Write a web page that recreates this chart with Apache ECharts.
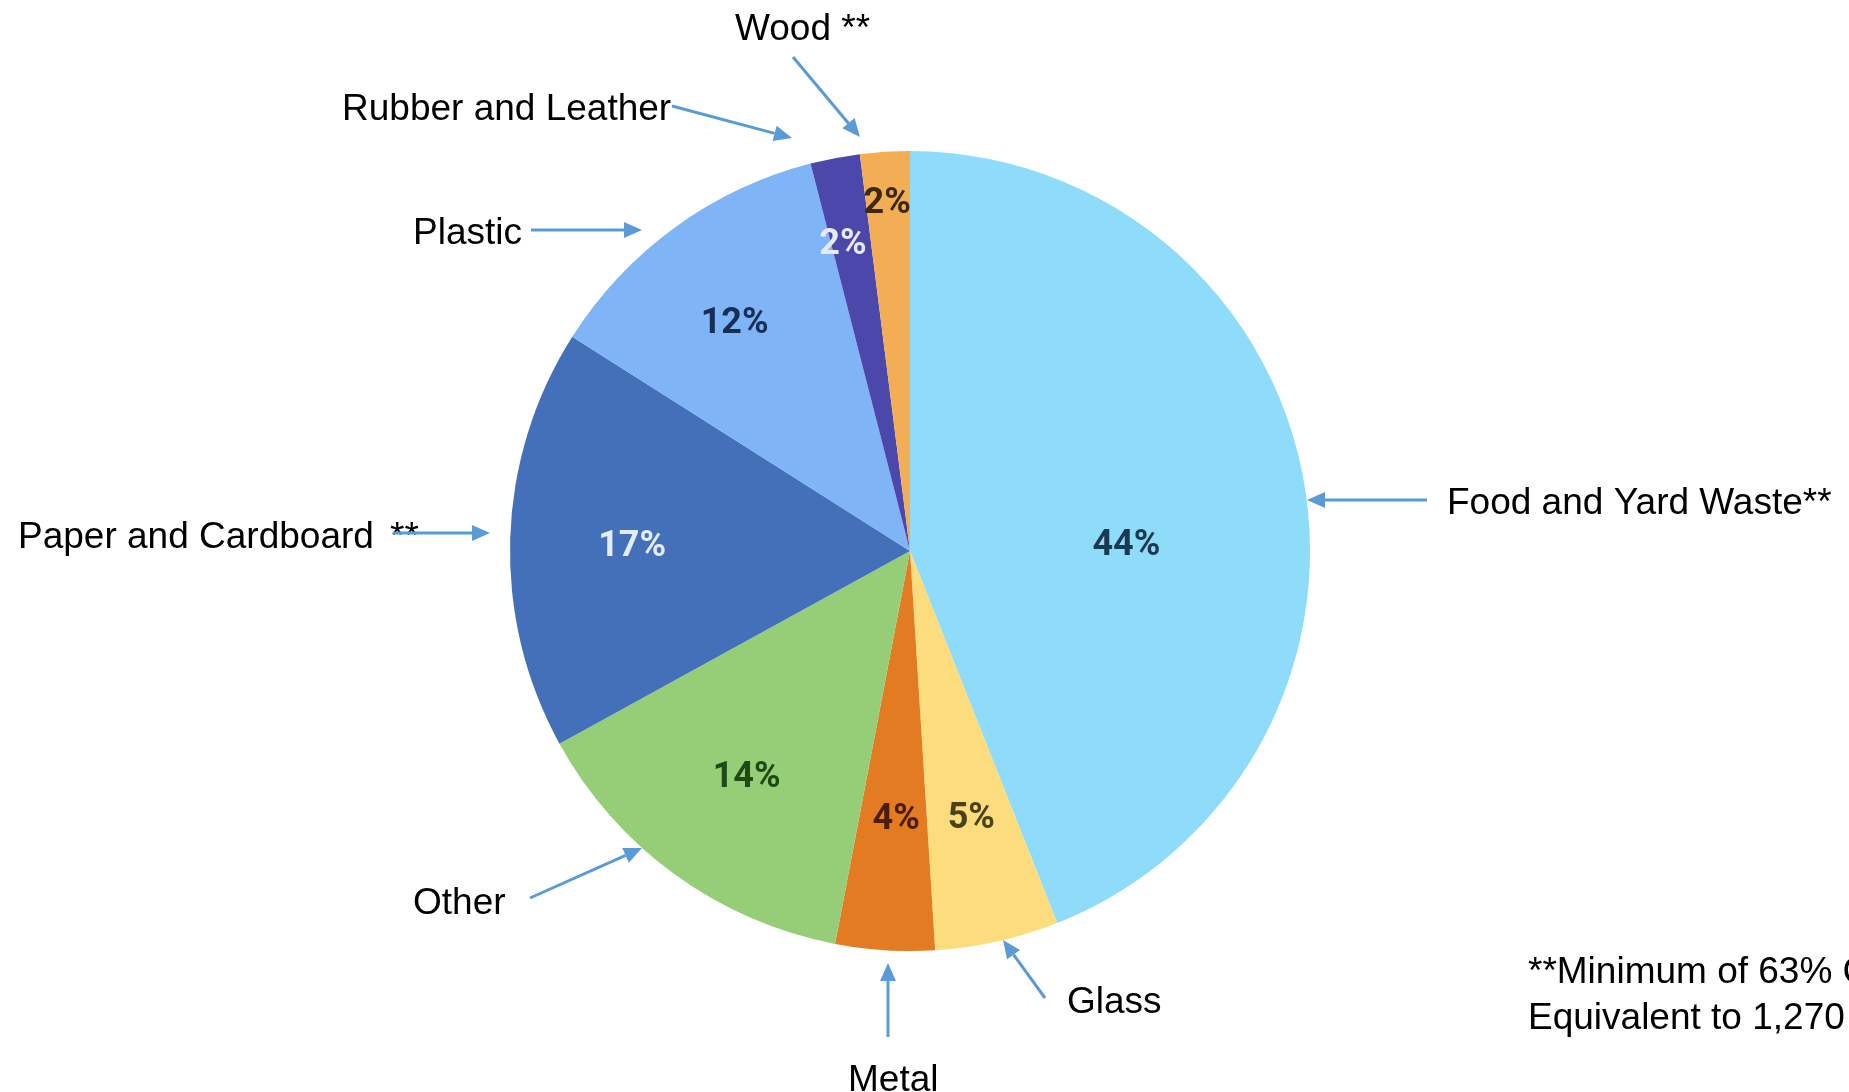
<!DOCTYPE html>
<html>
<head>
<meta charset="utf-8">
<title>Waste Composition</title>
<script src="https://cdn.jsdelivr.net/npm/echarts@6/dist/echarts.min.js"></script>
<style>
  html, body { margin: 0; padding: 0; background: #ffffff; }
  #chart { width: 1849px; height: 1092px; }
</style>
</head>
<body>
<div id="chart"></div>
<script>
// Waste stream composition, percent by category (clockwise from 12 o'clock)
const categories = ['Food and Yard Waste', 'Glass', 'Metal', 'Other', 'Paper and Cardboard', 'Plastic', 'Rubber and Leather', 'Wood'];
const shares = [44, 5, 4, 14, 17, 12, 2, 2];

// Slice fills and in-slice label colours
const sliceColors = ['#8edcfa', '#fddc7e', '#e37b22', '#96ce78', '#4470ba', '#7fb4f7', '#4b47ab', '#f3ae55'];
const pctColors = ['#1b3a50', '#4a4218', '#4b1d06', '#1f4a14', '#e3ecf7', '#172f55', '#e8e8f6', '#3d2a0e'];

// Footnote lines
const footnote = ['**Minimum of 63% Compostable', 'Equivalent to 1,270 tons'];

// ---- layout ----
const CX = 910, CY = 551, R = 400;
// nudges that move each percentage away from the default mid-radius spot
const pctNudge = [[17, 33], [17, 70], [-1, 66], [-44, 63], [-75, 2], [-56, -63], [-29, -107], [-10, -144]];

const ARROW = '#5b9bd5';
const LABEL_FONT = '37px "Liberation Sans", Arial, sans-serif';

function arrow(x1, y1, x2, y2) {
  const ang = Math.atan2(y2 - y1, x2 - x1);
  const len = 18, half = 8;
  const bx = x2 - len * Math.cos(ang), by = y2 - len * Math.sin(ang);
  const px = -Math.sin(ang) * half, py = Math.cos(ang) * half;
  return [
    { type: 'line', silent: true, shape: { x1: x1, y1: y1, x2: bx, y2: by },
      style: { stroke: ARROW, lineWidth: 3 } },
    { type: 'polygon', silent: true,
      shape: { points: [[x2, y2], [bx + px, by + py], [bx - px, by - py]] },
      style: { fill: ARROW } }
  ];
}

function label(text, x, y) {
  return { type: 'text', silent: true, x: x, y: y + 4,
    style: { text: text, font: LABEL_FONT, fill: '#000000', align: 'left', verticalAlign: 'middle' } };
}

const graphics = [].concat(
  label('Wood **', 735, 26), arrow(793, 57, 860, 137),
  label('Rubber and Leather', 342, 106), arrow(672, 106, 792, 138),
  label('Plastic', 413, 230), arrow(531, 230, 642, 230),
  label('Paper and Cardboard', 18, 534), label('**', 390, 534), arrow(393, 533, 490, 533),
  label('Food and Yard Waste**', 1447, 500), arrow(1427, 500, 1307, 500),
  label('Other', 413, 900), arrow(530, 898, 642, 848),
  label('Metal', 848, 1077), arrow(888, 1037, 888, 963),
  label('Glass', 1067, 999), arrow(1045, 998, 1003, 940),
  label(footnote[0], 1528, 969),
  label(footnote[1], 1528, 1015)
);

const chart = echarts.init(document.getElementById('chart'), null, { renderer: 'canvas' });
chart.setOption({
  animation: false,
  backgroundColor: '#ffffff',
  series: [{
    type: 'pie',
    center: [CX, CY],
    radius: R,
    startAngle: 90,
    clockwise: true,
    silent: true,
    data: categories.map((name, i) => ({
      name: name,
      value: shares[i],
      itemStyle: { color: sliceColors[i] },
      label: { color: pctColors[i] }
    })),
    itemStyle: { borderWidth: 0 },
    label: {
      show: true,
      position: 'inside',
      formatter: '{c}%',
      fontFamily: 'Roboto, "Open Sans", sans-serif',
      fontWeight: 'bold',
      fontSize: 36
    },
    labelLine: { show: false },
    labelLayout: function (p) {
      const n = pctNudge[p.dataIndex];
      return { dx: n[0], dy: n[1] };
    }
  }],
  graphic: graphics
});
</script>
</body>
</html>
